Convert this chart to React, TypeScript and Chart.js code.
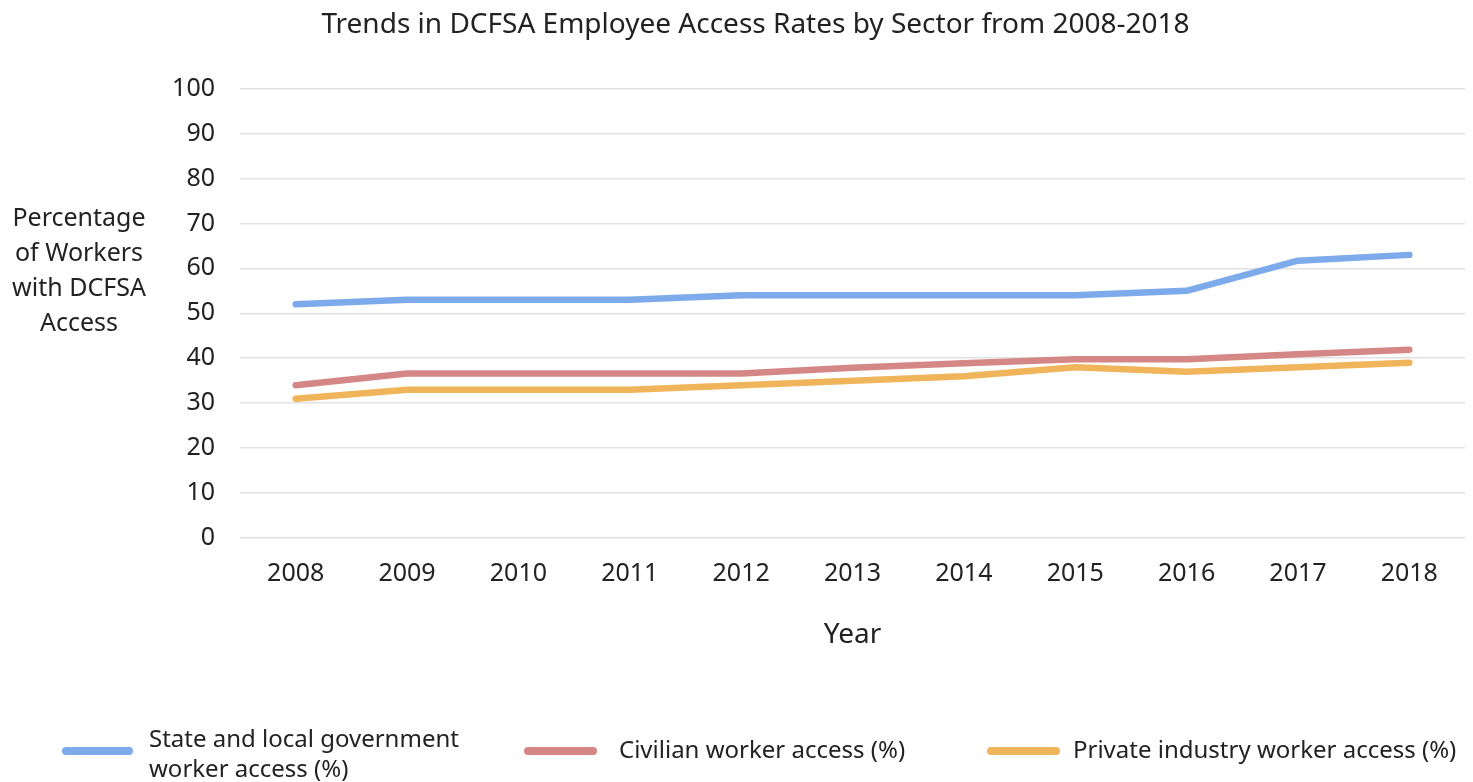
import React, { useEffect, useRef } from "react";
import { Chart, registerables } from "chart.js";

Chart.register(...registerables);

const years = ["2008", "2009", "2010", "2011", "2012", "2013", "2014", "2015", "2016", "2017", "2018"];
const stateLocal = [52, 53, 53, 53, 54, 54, 54, 54, 55, 61.7, 63];
const civilian = [34, 36.6, 36.6, 36.6, 36.6, 37.9, 38.9, 39.8, 39.8, 40.9, 41.9];
const privateIndustry = [31, 33, 33, 33, 34, 35, 36, 38, 37, 38, 39];
const seriesLabels = [
  ["State and local government", "worker access (%)"],
  ["Civilian worker access (%)"],
  ["Private industry worker access (%)"],
];
const yTitleLines = ["Percentage", "of Workers", "with DCFSA", "Access"];
const titleText = "Trends in DCFSA Employee Access Rates by Sector from 2008-2018";
const xTitle = "Year";

const FONT = "'Noto Sans', sans-serif";
const TEXT = "#222";
const PAD_L = 46;

const customPlugin = {
  id: "custom",
  afterDraw(chart: any) {
    const ctx = chart.ctx;
    ctx.save();
    // y title
    ctx.fillStyle = TEXT;
    ctx.font = `25px ${FONT}`;
    ctx.textAlign = "center";
    ctx.textBaseline = "middle";
    yTitleLines.forEach((l, i) => ctx.fillText(l, 79, 219 + i * 35));
    // legend
    const items = [
      { x0: 62, x1: 133, tx: 149 },
      { x0: 524, x1: 597, tx: 619 },
      { x0: 987, x1: 1060, tx: 1073 },
    ];
    const ly = 751;
    chart.data.datasets.forEach((ds: any, i: number) => {
      const it = items[i];
      ctx.strokeStyle = ds.borderColor;
      ctx.lineWidth = 8;
      ctx.lineCap = "round";
      ctx.beginPath();
      ctx.moveTo(it.x0 + 4, ly);
      ctx.lineTo(it.x1 - 4, ly);
      ctx.stroke();
      const lines = seriesLabels[i];
      ctx.fillStyle = TEXT;
      ctx.font = `24px ${FONT}`;
      ctx.textAlign = "left";
      ctx.textBaseline = "middle";
      const lh = 30;
      const start = lines.length > 1 ? 740 : ly;
      lines.forEach((l, j) => ctx.fillText(l, it.tx, start + j * lh));
    });
    ctx.restore();
  },
};

export default function App() {
  const ref = useRef<HTMLCanvasElement>(null);
  useEffect(() => {
    document.body.style.margin = "0";
    const chart = new Chart(ref.current!, {
      type: "line",
      data: {
        labels: years,
        datasets: [
          { label: seriesLabels[0].join(" "), data: stateLocal, borderColor: "rgb(124,170,235)" },
          { label: seriesLabels[1].join(" "), data: civilian, borderColor: "rgb(213,135,133)" },
          { label: seriesLabels[2].join(" "), data: privateIndustry, borderColor: "rgb(240,180,90)" },
        ].map((d) => ({
          ...d,
          borderWidth: 6.5,
          pointRadius: 0,
          borderCapStyle: "round" as const,
          borderJoinStyle: "round" as const,
          tension: 0,
          fill: false,
        })),
      },
      options: {
        animation: false,
        responsive: false,
        maintainAspectRatio: false,
        layout: { padding: { top: 0, right: 8, bottom: 130, left: PAD_L } },
        plugins: {
          legend: { display: false },
          tooltip: { enabled: false },
          title: {
            display: true,
            text: titleText,
            color: TEXT,
            font: { family: FONT, size: 28, weight: "normal" },
            padding: { top: 8, bottom: 47 },
          },
        },
        scales: {
          x: {
            offset: true,
            grid: { display: false, drawTicks: false },
            border: { display: false },
            ticks: { color: TEXT, font: { family: FONT, size: 25 }, padding: 21, maxRotation: 0 },
            title: {
              display: true,
              text: xTitle,
              color: TEXT,
              font: { family: FONT, size: 28 },
              padding: 0,
            },
            afterFit: (s: any) => {
              s.height = 114;
            },
          },
          y: {
            min: 0,
            max: 100,
            ticks: { stepSize: 10, color: TEXT, font: { family: FONT, size: 25 }, padding: 25 },
            grid: { color: "#e2e2e2", lineWidth: 1.5, drawTicks: false },
            border: { display: false },
            afterFit: (s: any) => {
              s.width = 240 - PAD_L;
            },
          },
        },
      },
      plugins: [customPlugin],
    });
    return () => chart.destroy();
  }, []);
  return (
    <div style={{ width: 1473, height: 782, background: "#fff" }}>
      <canvas ref={ref} width={1473} height={782} />
    </div>
  );
}
